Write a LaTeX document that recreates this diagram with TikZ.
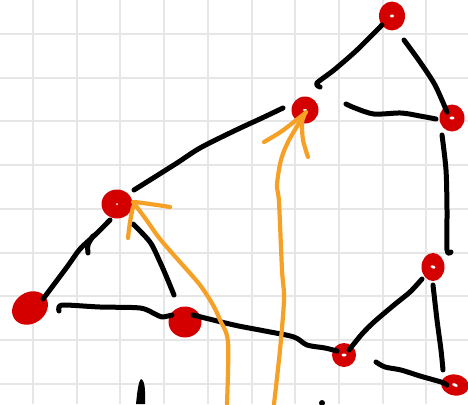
\documentclass[tikz,border=0pt]{standalone}
\usetikzlibrary{shapes.geometric}
\definecolor{blobred}{RGB}{212,0,0}
\definecolor{penorange}{RGB}{246,160,38}
\definecolor{gridgray}{RGB}{230,230,230}
\tikzset{
  blob/.style={ellipse, fill=blobred, inner sep=0pt},
  spot/.style={ellipse, fill=white, inner sep=0pt},
  ink/.style={black, line width=5pt, line cap=round, line join=round},
  orangepen/.style={penorange, line width=4.2pt, line cap=round, line join=round},
}
\begin{document}
\begin{tikzpicture}[x=1pt,y=-1pt]
\useasboundingbox (0,0) rectangle (468,404);
\fill[white] (0,0) rectangle (468,404);
% grid
\foreach \k in {0,...,9} {\draw[gridgray, line width=2pt] (33+43.7*\k,0) -- (33+43.7*\k,404);}
\foreach \k in {0,...,8} {\draw[gridgray, line width=2pt] (0,34+43.7*\k) -- (468,34+43.7*\k);}
% blobs
\node[blob, minimum width=26pt, minimum height=29pt] (n1) at (392,16) {};
\node[blob, minimum width=27pt, minimum height=27pt] (n2) at (305,110) {};
\node[blob, minimum width=25pt, minimum height=27pt] (n3) at (452,118) {};
\node[blob, minimum width=31pt, minimum height=29pt] (n4) at (117,204) {};
\node[blob, minimum width=38pt, minimum height=31pt, rotate=35] (n5) at (30,308) {};
\node[blob, minimum width=33pt, minimum height=31pt] (n6) at (185,322) {};
\node[blob, minimum width=23pt, minimum height=28pt] (n7) at (433,267) {};
\node[blob, minimum width=24pt, minimum height=24pt] (n8) at (344,355) {};
\node[blob, minimum width=28pt, minimum height=21pt, rotate=-10] (n9) at (455,385) {};
% white spots
\node[spot, minimum width=4pt, minimum height=3pt] at (n1) {};
\node[spot, minimum width=4pt, minimum height=2pt] at (n2) {};
\node[spot, minimum width=5pt, minimum height=3pt] at (n3.center) {};
\node[spot, minimum width=2pt, minimum height=2pt] at (n4) {};
\node[spot, minimum width=5pt, minimum height=3pt, rotate=-20] at (n7) {};
\node[spot, minimum width=5pt, minimum height=3pt] at (n8) {};
\node[spot, minimum width=6pt, minimum height=3pt, rotate=-25] at (n9) {};
% black strokes
\draw[ink] plot[smooth] coordinates {(320,87) (317,83) (334,70) (357,50) (382,25)};
\draw[ink] plot[smooth] coordinates {(404,40) (420,62) (435,85) (447,112)};
\draw[ink] plot[smooth] coordinates {(346,104) (355,108) (374,114) (401,113) (420,116) (436,119)};
\draw[ink] plot[smooth] coordinates {(442,135) (446,170) (447,210) (447,250) (451,252)};
\draw[ink] plot[smooth] coordinates {(134,190) (150,180) (177,163) (200,148) (234,131) (262,118) (283,108)};
\draw[ink] plot[smooth] coordinates {(110,220) (95,235) (80,249) (67,267) (43,299)};
\draw[ink] plot[smooth] coordinates {(93,236) (88,245) (88,253)};
\draw[ink] plot[smooth] coordinates {(133,224) (150,242) (160,262) (167,278) (174,295)};
\draw[ink] plot[smooth] coordinates {(59,311) (59,307) (65,305) (100,307) (140,308) (155,314) (162,317) (172,315)};
\draw[ink] plot[smooth] coordinates {(193,315) (234,325) (265,331) (294,337) (307,345) (325,348) (337,351)};
\draw[ink] plot[smooth] coordinates {(349,350) (362,334) (374,322) (394,305) (410,292) (422,279)};
\draw[ink] plot[smooth] coordinates {(433,285) (437,320) (441,350) (443,370)};
\draw[ink] plot[smooth] coordinates {(376,362) (385,367) (401,370) (420,376) (441,382) (447,385)};
\fill[black] (141,379) .. controls (146,381) and (145,395) .. (145,404) -- (136,404) .. controls (137,395) and (138,382) .. (141,379) -- cycle;
\fill[black] (322,403) circle (3pt);
% orange arrows
\draw[orangepen] plot[smooth] coordinates {(227,404) (228,342) (220,320) (213,305) (200,285) (180,262) (160,239) (145,218) (133,202)};
\draw[orangepen] plot[smooth] coordinates {(170,207) (157,205) (135,202)};
\draw[orangepen] plot[smooth] coordinates {(133,207) (130,222) (128,238)};
\draw[orangepen] plot[smooth] coordinates {(274,404) (280,350) (284,299) (282,270) (279,202) (277,185) (281,160) (289,140) (306,112)};
\draw[orangepen] plot[smooth] coordinates {(264,142) (282,131) (304,114)};
\draw[orangepen] plot[smooth] coordinates {(304,116) (302,123) (303,140) (308,157)};
\end{tikzpicture}
\end{document}
